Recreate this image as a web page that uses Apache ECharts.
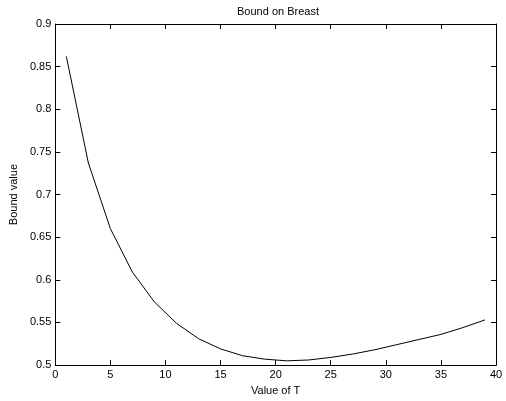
<!DOCTYPE html>
<html><head><meta charset="utf-8">
<script src="https://cdn.jsdelivr.net/npm/echarts@6/dist/echarts.min.js"></script>
<style>html,body{margin:0;padding:0;background:#fff}#c{width:506px;height:401px}</style>
</head><body><div id="c"></div>
<script>
var tValues = [1,3,5,7,9,11,13,15,17,19,21,23,25,27,29,31,33,35,37,39];
var boundValues = [0.862,0.737,0.660,0.609,0.574,0.549,0.531,0.519,0.511,0.507,0.505,0.506,0.509,0.513,0.518,0.524,0.530,0.536,0.544,0.553];
var titleText = 'Bound on Breast';
var xName = 'Value of T';
var yName = 'Bound value';

var font = 'Liberation Sans, Arial, Helvetica, sans-serif';
var chart = echarts.init(document.getElementById('c'), null, {renderer:'canvas'});
function axisLine(){ return {show:true, onZero:false, lineStyle:{color:'#000', width:1}}; }
function tick(){ return {show:true, inside:true, length:5, lineStyle:{color:'#000', width:1}}; }
function lab(){ return {color:'#000', fontSize:11, fontFamily:font, margin:4}; }
chart.setOption({
  animation:false,
  backgroundColor:'#fff',
  title:{text:titleText, left:273, top:1, textAlign:'center',
    textStyle:{fontSize:11, fontWeight:'normal', color:'#000', fontFamily:font}},
  grid:{left:51, right:10, top:24, bottom:27, containLabel:false},
  xAxis:[
    {type:'value', min:0, max:40, interval:5, position:'bottom',
     name:xName, nameLocation:'middle', nameGap:15,
     nameTextStyle:{color:'#000', fontSize:11, fontFamily:font},
     axisLine:axisLine(), axisTick:tick(), axisLabel:lab(), splitLine:{show:false}},
    {type:'value', min:0, max:40, interval:5, position:'top',
     axisLine:axisLine(), axisTick:tick(), axisLabel:{show:false}, splitLine:{show:false}}
  ],
  yAxis:[
    {type:'value', min:0.5, max:0.9, interval:0.05, position:'left',
     name:yName, nameLocation:'middle', nameGap:26,
     nameTextStyle:{color:'#000', fontSize:11, fontFamily:font},
     axisLine:axisLine(), axisTick:tick(),
     axisLabel:Object.assign(lab(), {formatter:function(v){return String(parseFloat(v.toFixed(2)));}}),
     splitLine:{show:false}},
    {type:'value', min:0.5, max:0.9, interval:0.05, position:'right',
     axisLine:axisLine(), axisTick:tick(), axisLabel:{show:false}, splitLine:{show:false}}
  ],
  series:[{type:'line', xAxisIndex:0, yAxisIndex:0, showSymbol:false, symbol:'none',
    lineStyle:{color:'#000', width:1},
    data:tValues.map(function(t,i){return [t, boundValues[i]];})}]
});
</script></body></html>
